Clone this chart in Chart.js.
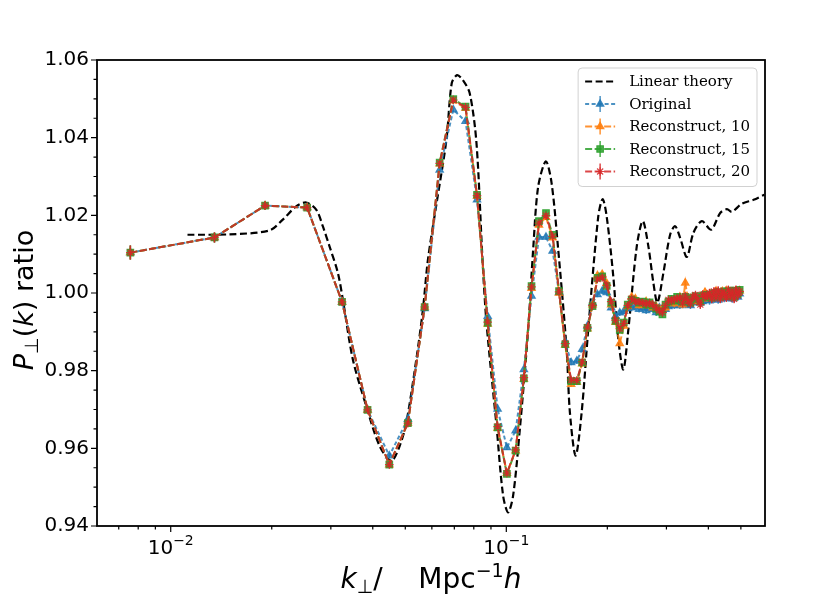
<!DOCTYPE html>
<html>
<head>
<meta charset="utf-8">
<script src="https://cdn.jsdelivr.net/npm/chart.js@4.4.1/dist/chart.umd.min.js"></script>
<style>
  html, body { margin: 0; padding: 0; background: #fff; }
  #wrap { width: 814px; height: 605px; }
</style>
</head>
<body>
<div id="wrap"><canvas id="ratioChart" width="814" height="605"></canvas></div>
<script>
// k bins, h/Mpc
const kBins = [
  0.00758, 0.0135, 0.0191, 0.0255, 0.0324, 0.0386, 0.0448, 0.0509, 0.0571, 0.0633,
  0.0695, 0.0756, 0.0818, 0.0880, 0.0942, 0.1004, 0.1066, 0.1128, 0.1189, 0.1251,
  0.1313, 0.1374, 0.1436, 0.1498, 0.1560, 0.1622, 0.1683, 0.1745, 0.1807, 0.1869,
  0.1931, 0.1992, 0.2054, 0.2116, 0.2178, 0.2240, 0.2301, 0.2363, 0.2425, 0.2487,
  0.2549, 0.2610, 0.2672, 0.2734, 0.2796, 0.2858, 0.2919, 0.2981, 0.3043, 0.3105,
  0.3167, 0.3228, 0.3290, 0.3352, 0.3414, 0.3476, 0.3537, 0.3599, 0.3661, 0.3723,
  0.3785, 0.3846, 0.3908, 0.3970, 0.4032, 0.4094, 0.4155, 0.4217, 0.4279, 0.4341,
  0.4403, 0.4464, 0.4526, 0.4588, 0.4650, 0.4712, 0.4773, 0.4835, 0.4897, 0.4959
];

const original = [
  1.0104, 1.0143, 1.0225, 1.0220, 0.9977, 0.9699, 0.9581, 0.9675, 0.9960, 1.0317,
  1.0472, 1.0442, 1.0240, 0.9940, 0.9701, 0.9602, 0.9645, 0.9803, 0.9992, 1.0144,
  1.0144, 1.0108, 1.0001, 0.9875, 0.9821, 0.9825, 0.9855, 0.9915, 0.9975, 0.9996,
  1.0005, 1.0001, 0.9962, 0.9940, 0.9949, 0.9953, 0.9960, 0.9962, 0.9965, 0.9958,
  0.9962, 0.9955, 0.9960, 0.9958, 0.9950, 0.9962, 0.9955, 0.9958, 0.9965, 0.9970,
  0.9968, 0.9972, 0.9968, 0.9975, 0.9970, 0.9972, 0.9968, 0.9975, 0.9978, 0.9980,
  0.9975, 0.9978, 0.9982, 0.9985, 0.9980, 0.9988, 0.9985, 0.9990, 0.9982, 0.9988,
  0.9992, 0.9986, 0.9990, 0.9995, 0.9988, 0.9985, 0.9992, 0.9995, 0.9990, 0.9998
];

const recon10 = [
  1.0104, 1.0143, 1.0225, 1.0220, 0.9977, 0.9699, 0.9558, 0.9665, 0.9964, 1.0333,
  1.0495, 1.0476, 1.0250, 0.9920, 0.9652, 0.9536, 0.9594, 0.9778, 1.0012, 1.0175,
  1.0195, 1.0142, 1.0000, 0.9866, 0.9765, 0.9770, 0.9818, 0.9908, 0.9970, 1.0045,
  1.0048, 1.0025, 0.9970, 0.9925, 0.9870, 0.9915, 0.9965, 0.9990, 0.9985, 0.9968,
  0.9970, 0.9978, 0.9968, 0.9962, 0.9965, 0.9958, 0.9960, 0.9962, 0.9975, 0.9978,
  0.9972, 0.9982, 0.9990, 0.9970, 1.0026, 0.9985, 0.9985, 0.9982, 0.9988, 0.9978,
  0.9990, 0.9985, 1.0002, 0.9988, 0.9992, 0.9996, 0.9995, 1.0005, 0.9998, 0.9994,
  1.0004, 0.9996, 1.0006, 0.9998, 1.0002, 0.9994, 0.9998, 1.0006, 1.0002, 1.0006
];

const recon15 = [
  1.0104, 1.0143, 1.0225, 1.0220, 0.9977, 0.9699, 0.9558, 0.9665, 0.9964, 1.0336,
  1.0499, 1.0480, 1.0253, 0.9923, 0.9654, 0.9534, 0.9594, 0.9780, 1.0018, 1.0185,
  1.0206, 1.0150, 1.0005, 0.9868, 0.9773, 0.9773, 0.9821, 0.9910, 0.9966, 1.0039,
  1.0043, 1.0018, 0.9975, 0.9928, 0.9905, 0.9924, 0.9970, 0.9983, 0.9980, 0.9975,
  0.9978, 0.9970, 0.9976, 0.9968, 0.9960, 0.9952, 0.9945, 0.9970, 0.9978, 0.9985,
  0.9980, 0.9990, 0.9982, 0.9978, 0.9990, 0.9984, 0.9975, 0.9988, 0.9992, 0.9985,
  0.9978, 0.9992, 0.9995, 0.9990, 0.9996, 0.9988, 1.0000, 0.9995, 1.0002, 0.9990,
  0.9998, 1.0004, 0.9992, 1.0002, 0.9996, 1.0006, 0.9990, 1.0004, 0.9998, 1.0008
];

const recon20 = [
  1.0104, 1.0143, 1.0225, 1.0220, 0.9977, 0.9699, 0.9558, 0.9665, 0.9964, 1.0334,
  1.0497, 1.0478, 1.0251, 0.9925, 0.9656, 0.9536, 0.9596, 0.9782, 1.0016, 1.0180,
  1.0199, 1.0146, 1.0003, 0.9870, 0.9776, 0.9775, 0.9823, 0.9912, 0.9968, 1.0036,
  1.0040, 1.0020, 0.9978, 0.9930, 0.9908, 0.9922, 0.9968, 0.9985, 0.9978, 0.9977,
  0.9975, 0.9972, 0.9974, 0.9970, 0.9962, 0.9955, 0.9950, 0.9968, 0.9982, 0.9980,
  0.9984, 0.9986, 0.9988, 0.9974, 0.9992, 0.9980, 0.9972, 0.9990, 0.9995, 0.9982,
  0.9970, 0.9996, 0.9990, 0.9993, 1.0000, 0.9985, 1.0004, 0.9990, 1.0006, 0.9985,
  1.0002, 0.9998, 0.9988, 1.0008, 0.9992, 1.0002, 0.9985, 1.0008, 0.9994, 1.0004
];

// half-length of the error bars, same for every run
const errBars = [
  0.0018, 0.0013, 0.0010, 0.0009, 0.0008, 0.0007, 0.0007, 0.0006, 0.0006, 0.0006,
  0.0006, 0.0006, 0.0006, 0.0006, 0.0006, 0.0006, 0.0006, 0.0006, 0.0006, 0.0006,
  0.0007, 0.0007, 0.0007, 0.0007, 0.0007, 0.0007, 0.0007, 0.0007, 0.0007, 0.0007,
  0.0008, 0.0008, 0.0008, 0.0008, 0.0008, 0.0008, 0.0008, 0.0008, 0.0008, 0.0008,
  0.0009, 0.0009, 0.0009, 0.0009, 0.0009, 0.0009, 0.0009, 0.0009, 0.0009, 0.0009,
  0.0009, 0.0009, 0.0009, 0.0009, 0.0009, 0.0009, 0.0009, 0.0009, 0.0009, 0.0009,
  0.0010, 0.0010, 0.0010, 0.0010, 0.0010, 0.0010, 0.0010, 0.0010, 0.0010, 0.0010,
  0.0010, 0.0010, 0.0010, 0.0010, 0.0010, 0.0010, 0.0010, 0.0010, 0.0010, 0.0010
];

// linear theory curve
const kTheory = [
  0.01122, 0.01495, 0.01968, 0.02157, 0.02365, 0.02533, 0.02713, 0.02839, 0.02973, 0.03148,
  0.03258, 0.03489, 0.03825, 0.04192, 0.04544, 0.04810, 0.05037, 0.05394, 0.05644, 0.05841,
  0.06202, 0.06630, 0.06876, 0.07131, 0.07416, 0.07782, 0.08149, 0.08492, 0.08729, 0.09350,
  0.09783, 0.10124, 0.10478, 0.10972, 0.11617, 0.12023, 0.12443, 0.13119, 0.13644, 0.14277,
  0.15124, 0.15471, 0.16089, 0.16766, 0.17544, 0.18792, 0.19370, 0.19910, 0.20834, 0.21567,
  0.22322, 0.23103, 0.24475, 0.25505, 0.26506, 0.27433, 0.28198, 0.29385, 0.30768, 0.31844,
  0.32957, 0.34510, 0.36110, 0.38253, 0.40775, 0.43384, 0.45428, 0.47016, 0.50366, 0.54547,
  0.58700
];
const pTheory = [
  1.0150, 1.0151, 1.0161, 1.0189, 1.0223, 1.0233, 1.0215, 1.0172, 1.0120, 1.0052,
  0.9983, 0.9829, 0.9709, 0.9606, 0.9568, 0.9606, 0.9667, 0.9829, 0.9958, 1.0086,
  1.0233, 1.0394, 1.0540, 1.0561, 1.0549, 1.0514, 1.0386, 1.0086, 0.9923, 0.9658,
  0.9478, 0.9435, 0.9478, 0.9649, 0.9906, 1.0112, 1.0274, 1.0339, 1.0283, 1.0112,
  0.9855, 0.9692, 0.9581, 0.9692, 0.9906, 1.0197, 1.0242, 1.0197, 1.0043, 0.9880,
  0.9803, 0.9906, 1.0120, 1.0185, 1.0120, 1.0026, 0.9975, 1.0052, 1.0150, 1.0172,
  1.0142, 1.0093, 1.0155, 1.0185, 1.0163, 1.0206, 1.0216, 1.0209, 1.0230, 1.0240,
  1.0253
];

const xTickValues = [0.007, 0.008, 0.009, 0.01, 0.02, 0.03, 0.04, 0.05, 0.06, 0.07, 0.08, 0.09, 0.1, 0.2, 0.3, 0.4, 0.5];
const yTickValues = [0.94, 0.945, 0.95, 0.955, 0.96, 0.965, 0.97, 0.975, 0.98, 0.985, 0.99, 0.995,
                     1.00, 1.005, 1.01, 1.015, 1.02, 1.025, 1.03, 1.035, 1.04, 1.045, 1.05, 1.055, 1.06];

const isDecade = v => Math.abs(Math.log10(v) - Math.round(Math.log10(v))) < 1e-6;
const isMajorY = v => Math.round(v * 1000) % 20 === 0;
const toPoints = (ks, vs) => ks.map((k, i) => ({ x: k, y: vs[i] }));

// vertical error bars for the datasets that carry an `errors` array
const errorBars = {
    id: 'errorBars',
    beforeDatasetDraw(chart, args) {
        const ds = chart.data.datasets[args.index];
        if (!ds.errors) return;
        const { ctx, scales: { x, y } } = chart;
        ctx.save();
        ctx.strokeStyle = ds.borderColor;
        ctx.lineWidth = 1.5;
        ctx.beginPath();
        ds.data.forEach((p, i) => {
            const px = x.getPixelForValue(p.x);
            ctx.moveTo(px, y.getPixelForValue(p.y - ds.errors[i]));
            ctx.lineTo(px, y.getPixelForValue(p.y + ds.errors[i]));
        });
        ctx.stroke();
        ctx.restore();
    }
};

// full box + matplotlib-like ticks (long majors, short minors) + decade labels
const frameAndTicks = {
    id: 'frameAndTicks',
    afterDatasetsDraw(chart) {
        const { ctx, chartArea: a, scales } = chart;
        ctx.save();
        ctx.strokeStyle = '#000';
        ctx.lineWidth = 1.2;
        ctx.beginPath();
        scales.x.ticks.forEach(t => {
            const px = scales.x.getPixelForValue(t.value);
            const len = isDecade(t.value) ? 6 : 3.5;
            ctx.moveTo(px, a.bottom); ctx.lineTo(px, a.bottom + len);
        });
        scales.y.ticks.forEach(t => {
            const py = scales.y.getPixelForValue(t.value);
            const len = isMajorY(t.value) ? 6 : 3.5;
            ctx.moveTo(a.left, py); ctx.lineTo(a.left - len, py);
        });
        ctx.stroke();
        ctx.lineWidth = 1.8;
        ctx.strokeRect(a.left, a.top, a.right - a.left, a.bottom - a.top);

        ctx.fillStyle = '#000';
        scales.x.ticks.filter(t => isDecade(t.value)).forEach(t => {
            const px = scales.x.getPixelForValue(t.value);
            drawMixed(ctx, [
                { text: '10', font: '20px "DejaVu Sans"' },
                { text: '−' + Math.abs(Math.round(Math.log10(t.value))), font: '14px "DejaVu Sans"', dy: -9 }
            ], px, a.bottom + 28);
        });
        ctx.restore();
    }
};

function drawMixed(ctx, parts, cx, baseline) {
    let total = 0;
    parts.forEach(p => { ctx.font = p.font; p.w = ctx.measureText(p.text).width; total += p.w; });
    let x = cx - total / 2;
    ctx.textAlign = 'left';
    ctx.textBaseline = 'alphabetic';
    parts.forEach(p => {
        ctx.font = p.font;
        ctx.fillText(p.text, x, baseline + (p.dy || 0));
        x += p.w;
    });
}

const axisTitles = {
    id: 'axisTitles',
    afterDraw(chart) {
        const { ctx, chartArea: a } = chart;
        const big = '27px "DejaVu Sans"', bigIt = 'italic 27px "DejaVu Sans"', small = '19px "DejaVu Sans"';
        ctx.save();
        ctx.fillStyle = '#000';
        drawMixed(ctx, [
            { text: 'k', font: 'italic 28px "DejaVu Sans"' },
            { text: '⊥', font: small, dy: 5 },
            { text: '/', font: '28px "DejaVu Sans"' },
            { text: '    ', font: '28px "DejaVu Sans"' },
            { text: 'Mpc', font: '28px "DejaVu Sans"' },
            { text: '−1', font: small, dy: -11 },
            { text: 'h', font: 'italic 28px "DejaVu Sans"' }
        ], (a.left + a.right) / 2, 588);
        ctx.translate(33, (a.top + a.bottom) / 2 + 7);
        ctx.rotate(-Math.PI / 2);
        drawMixed(ctx, [
            { text: 'P', font: bigIt },
            { text: '⊥', font: small, dy: 5 },
            { text: '(', font: big },
            { text: 'k', font: bigIt },
            { text: ')', font: big },
            { text: ' ratio', font: big }
        ], 0, 0);
        ctx.restore();
    }
};

const legendBox = {
    id: 'legendBox',
    afterDraw(chart) {
        const { ctx, chartArea: a } = chart;
        const sets = chart.data.datasets;
        ctx.save();
        ctx.font = '15px "DejaVu Serif"';
        const textW = Math.max(...sets.map(d => ctx.measureText(d.label).width));
        const pad = 7, handle = 30, gap = 14, rowH = 22.5, first = 13.5;
        const w = pad + handle + gap + textW + pad;
        const h = first + (sets.length - 1) * rowH + 15;
        const left = a.right - 8 - w, top = a.top + 8;

        ctx.beginPath();
        if (ctx.roundRect) ctx.roundRect(left, top, w, h, 4); else ctx.rect(left, top, w, h);
        ctx.fillStyle = 'rgba(255,255,255,0.8)';
        ctx.fill();
        ctx.strokeStyle = 'rgba(204,204,204,0.9)';
        ctx.lineWidth = 1;
        ctx.stroke();

        sets.forEach((d, i) => {
            const cy = top + first + i * rowH;
            const x0 = left + pad, x1 = x0 + handle, xm = (x0 + x1) / 2;
            ctx.strokeStyle = d.borderColor;
            ctx.lineWidth = d.borderWidth;
            ctx.setLineDash(d.borderDash || []);
            ctx.beginPath(); ctx.moveTo(x0, cy); ctx.lineTo(x1, cy); ctx.stroke();
            ctx.setLineDash([]);
            if (d.pointRadius > 0) {
                ctx.lineWidth = 1.5;
                ctx.beginPath(); ctx.moveTo(xm, cy - 8); ctx.lineTo(xm, cy + 8); ctx.stroke();
                ctx.fillStyle = d.pointBackgroundColor;
                ctx.strokeStyle = d.pointBorderColor;
                ctx.lineWidth = d.pointBorderWidth;
                Chart.helpers.drawPoint(ctx, {
                    pointStyle: d.pointStyle, radius: d.pointRadius, rotation: 0, borderWidth: d.pointBorderWidth
                }, xm, cy);
            }
            ctx.fillStyle = '#000';
            ctx.font = '15px "DejaVu Serif"';
            ctx.textAlign = 'left';
            ctx.textBaseline = 'middle';
            ctx.fillText(d.label, x1 + gap, cy + 1);
        });
        ctx.restore();
    }
};

function series(label, vals, color, style, radius, dash, order) {
    return {
        label: label,
        data: toPoints(kBins, vals),
        errors: errBars,
        borderColor: color,
        backgroundColor: color,
        pointBackgroundColor: color,
        pointBorderColor: color,
        pointBorderWidth: 1.2,
        borderWidth: 2,
        borderDash: dash,
        pointStyle: style,
        pointRadius: radius,
        tension: 0,
        order: order
    };
}

const ctx = document.getElementById('ratioChart').getContext('2d');
new Chart(ctx, {
    type: 'line',
    data: {
        datasets: [
            {
                label: 'Linear theory',
                data: toPoints(kTheory, pTheory),
                borderColor: '#000',
                borderWidth: 2.2,
                borderDash: [7, 3.5],
                pointRadius: 0,
                tension: 0.3,
                order: 5
            },
            series('Original', original, 'rgba(31,119,180,0.8)', 'triangle', 4.3, [4, 2.5], 4),
            series('Reconstruct, 10', recon10, 'rgba(255,127,14,0.85)', 'triangle', 4.3, [7, 2.5], 3),
            series('Reconstruct, 15', recon15, 'rgba(44,160,44,0.85)', 'rect', 4.6, [7, 2.5], 2),
            series('Reconstruct, 20', recon20, 'rgba(214,39,40,0.85)', 'star', 4.3, [7, 2.5], 1)
        ]
    },
    options: {
        responsive: false,
        animation: false,
        layout: { padding: { top: 60, right: 49, left: 0, bottom: 0 } },
        plugins: { legend: { display: false }, tooltip: { enabled: false } },
        scales: {
            x: {
                type: 'logarithmic',
                min: 0.00603,
                max: 0.59,
                afterBuildTicks: scale => { scale.ticks = xTickValues.map(v => ({ value: v })); },
                afterFit: scale => { scale.height = 79; },
                grid: { display: false, drawTicks: false },
                border: { display: false },
                ticks: { autoSkip: false, maxRotation: 0, callback: () => '' }
            },
            y: {
                type: 'linear',
                min: 0.94,
                max: 1.06,
                afterBuildTicks: scale => { scale.ticks = yTickValues.map(v => ({ value: v })); },
                afterFit: scale => { scale.width = 97; },
                grid: { display: false, drawTicks: false },
                border: { display: false },
                ticks: {
                    autoSkip: false,
                    padding: 8,
                    color: '#000',
                    font: { family: '"DejaVu Sans"', size: 20 },
                    callback: v => isMajorY(v) ? v.toFixed(2) : ''
                }
            }
        }
    },
    plugins: [errorBars, frameAndTicks, axisTitles, legendBox]
});
</script>
</body>
</html>
